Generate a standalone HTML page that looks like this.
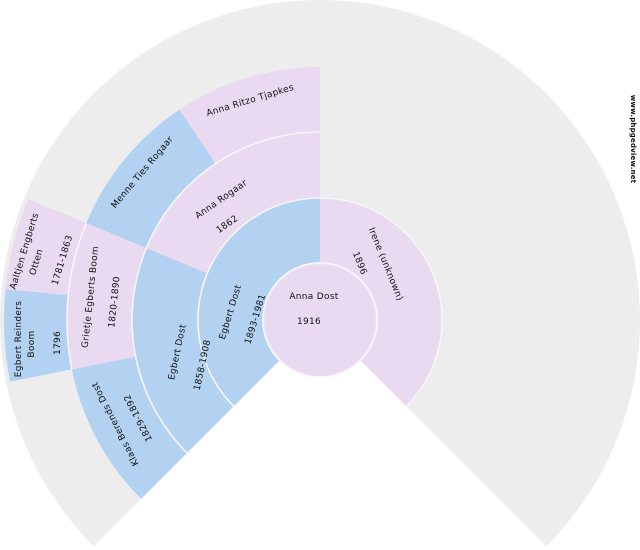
<!DOCTYPE html>
<html><head><meta charset="utf-8"><style>
html,body{margin:0;padding:0;background:#fff;}
svg{display:block;}
text{font-family:"DejaVu Sans","Liberation Sans",sans-serif;font-size:9px;fill:#111;letter-spacing:0.3px;}
</style></head><body>
<svg id="s" width="640" height="550" viewBox="0 0 640 550" xmlns="http://www.w3.org/2000/svg">
<g id="w"></g>
<g id="t">
<text x="314" y="299" text-anchor="middle">Anna Dost</text>
<text x="309" y="324" text-anchor="middle">1916</text>

<text transform="translate(230,312) rotate(-73)" text-anchor="middle" dy="3">Egbert Dost</text>
<text transform="translate(255,319) rotate(-73)" text-anchor="middle" dy="3">1893-1981</text>

<text transform="translate(386,264) rotate(68)" text-anchor="middle" dy="3">Irene (unknown)</text>
<text transform="translate(360,263) rotate(68)" text-anchor="middle" dy="3">1896</text>

<text transform="translate(177,352) rotate(-78)" text-anchor="middle" dy="3">Egbert Dost</text>
<text transform="translate(202,365) rotate(-78)" text-anchor="middle" dy="3">1858-1908</text>

<text transform="translate(221,199) rotate(-35)" text-anchor="middle" dy="3">Anna Rogaar</text>
<text transform="translate(227,224) rotate(-35)" text-anchor="middle" dy="3">1862</text>

<text transform="translate(115,424) rotate(-117)" text-anchor="middle" dy="3">Klaas Berends Dost</text>
<text transform="translate(138,418) rotate(-117)" text-anchor="middle" dy="3">1829-1892</text>

<text transform="translate(90,297) rotate(-84)" text-anchor="middle" dy="3">Grietje Egberts Boom</text>
<text transform="translate(114,302) rotate(-84)" text-anchor="middle" dy="3">1820-1890</text>

<text transform="translate(142,172) rotate(-50)" text-anchor="middle" dy="3">Menne Ties Rogaar</text>
<text transform="translate(250,100) rotate(-17)" text-anchor="middle" dy="3">Anna Ritzo Tjapkes</text>

<text transform="translate(18,339) rotate(-90)" text-anchor="middle" dy="3">Egbert Reinders</text>
<text transform="translate(31,344) rotate(-90)" text-anchor="middle" dy="3">Boom</text>
<text transform="translate(57,343) rotate(-90)" text-anchor="middle" dy="3">1796</text>

<text transform="translate(24,251) rotate(-73)" text-anchor="middle" dy="3">Aaltjen Engberts</text>
<text transform="translate(36,262) rotate(-73)" text-anchor="middle" dy="3">Otten</text>
<text transform="translate(62,260) rotate(-73)" text-anchor="middle" dy="3">1781-1863</text>

<text transform="translate(634,139) rotate(90)" text-anchor="middle" dy="3" style="font-size:7px;letter-spacing:0.2px;font-weight:bold">www.phpgedview.net</text>
</g>
</svg>
<script>
var cx=320,cy=320,NS="http://www.w3.org/2000/svg";
function pt(r,a){a=a*Math.PI/180;return [cx+r*Math.cos(a),cy-r*Math.sin(a)];}
function wedge(r0,r1,a0,a1,fill){
  var p1=pt(r1,a0),p2=pt(r1,a1),p3=pt(r0,a1),p4=pt(r0,a0);
  var large=(a0-a1)>180?1:0;
  var d="M"+p1+" A"+r1+","+r1+" 0 "+large+" 1 "+p2;
  if(r0>0){d+=" L"+p3+" A"+r0+","+r0+" 0 "+large+" 0 "+p4+" Z";}
  else{d+=" L"+cx+","+cy+" Z";}
  var e=document.createElementNS(NS,"path");e.setAttribute("d",d);e.setAttribute("fill",fill);
  document.getElementById("w").appendChild(e);
}
function arc(r,a0,a1){
  var p1=pt(r,a0),p2=pt(r,a1);var large=(a0-a1)>180?1:0;
  var e=document.createElementNS(NS,"path");
  e.setAttribute("d","M"+p1+" A"+r+","+r+" 0 "+large+" 1 "+p2);
  e.setAttribute("fill","none");e.setAttribute("stroke","#f6f6f6");e.setAttribute("stroke-width","1.6");
  document.getElementById("w").appendChild(e);
}
var B="#b3d1f1",P="#e9daf1",G="#ededed";
wedge(0,320,225,-45,G);
var R0=57,R1=122,R2=188,R3=253,R4=316;
wedge(R0,R1,225,90,B);
wedge(R0,R1,90,-45,P);
wedge(R1,R2,225,157.5,B);
wedge(R1,R2,157.5,90,P);
wedge(R2,R3,225,191.25,B);
wedge(R2,R3,191.25,157.5,P);
wedge(R2,R3,157.5,123.75,B);
wedge(R2,R3,123.75,90,P);
wedge(R3,R4,191.25,174.375,B);
wedge(R3,R4,174.375,157.5,P);
arc(R1,225,-45);
arc(R2,225,90);
arc(R3,191.25,157.5);
var c=document.createElementNS(NS,"circle");c.setAttribute("cx",cx);c.setAttribute("cy",cy);c.setAttribute("r",R0);
c.setAttribute("fill",P);c.setAttribute("stroke","#f6f6f6");c.setAttribute("stroke-width","2");
document.getElementById("w").appendChild(c);
</script>
</body></html>
